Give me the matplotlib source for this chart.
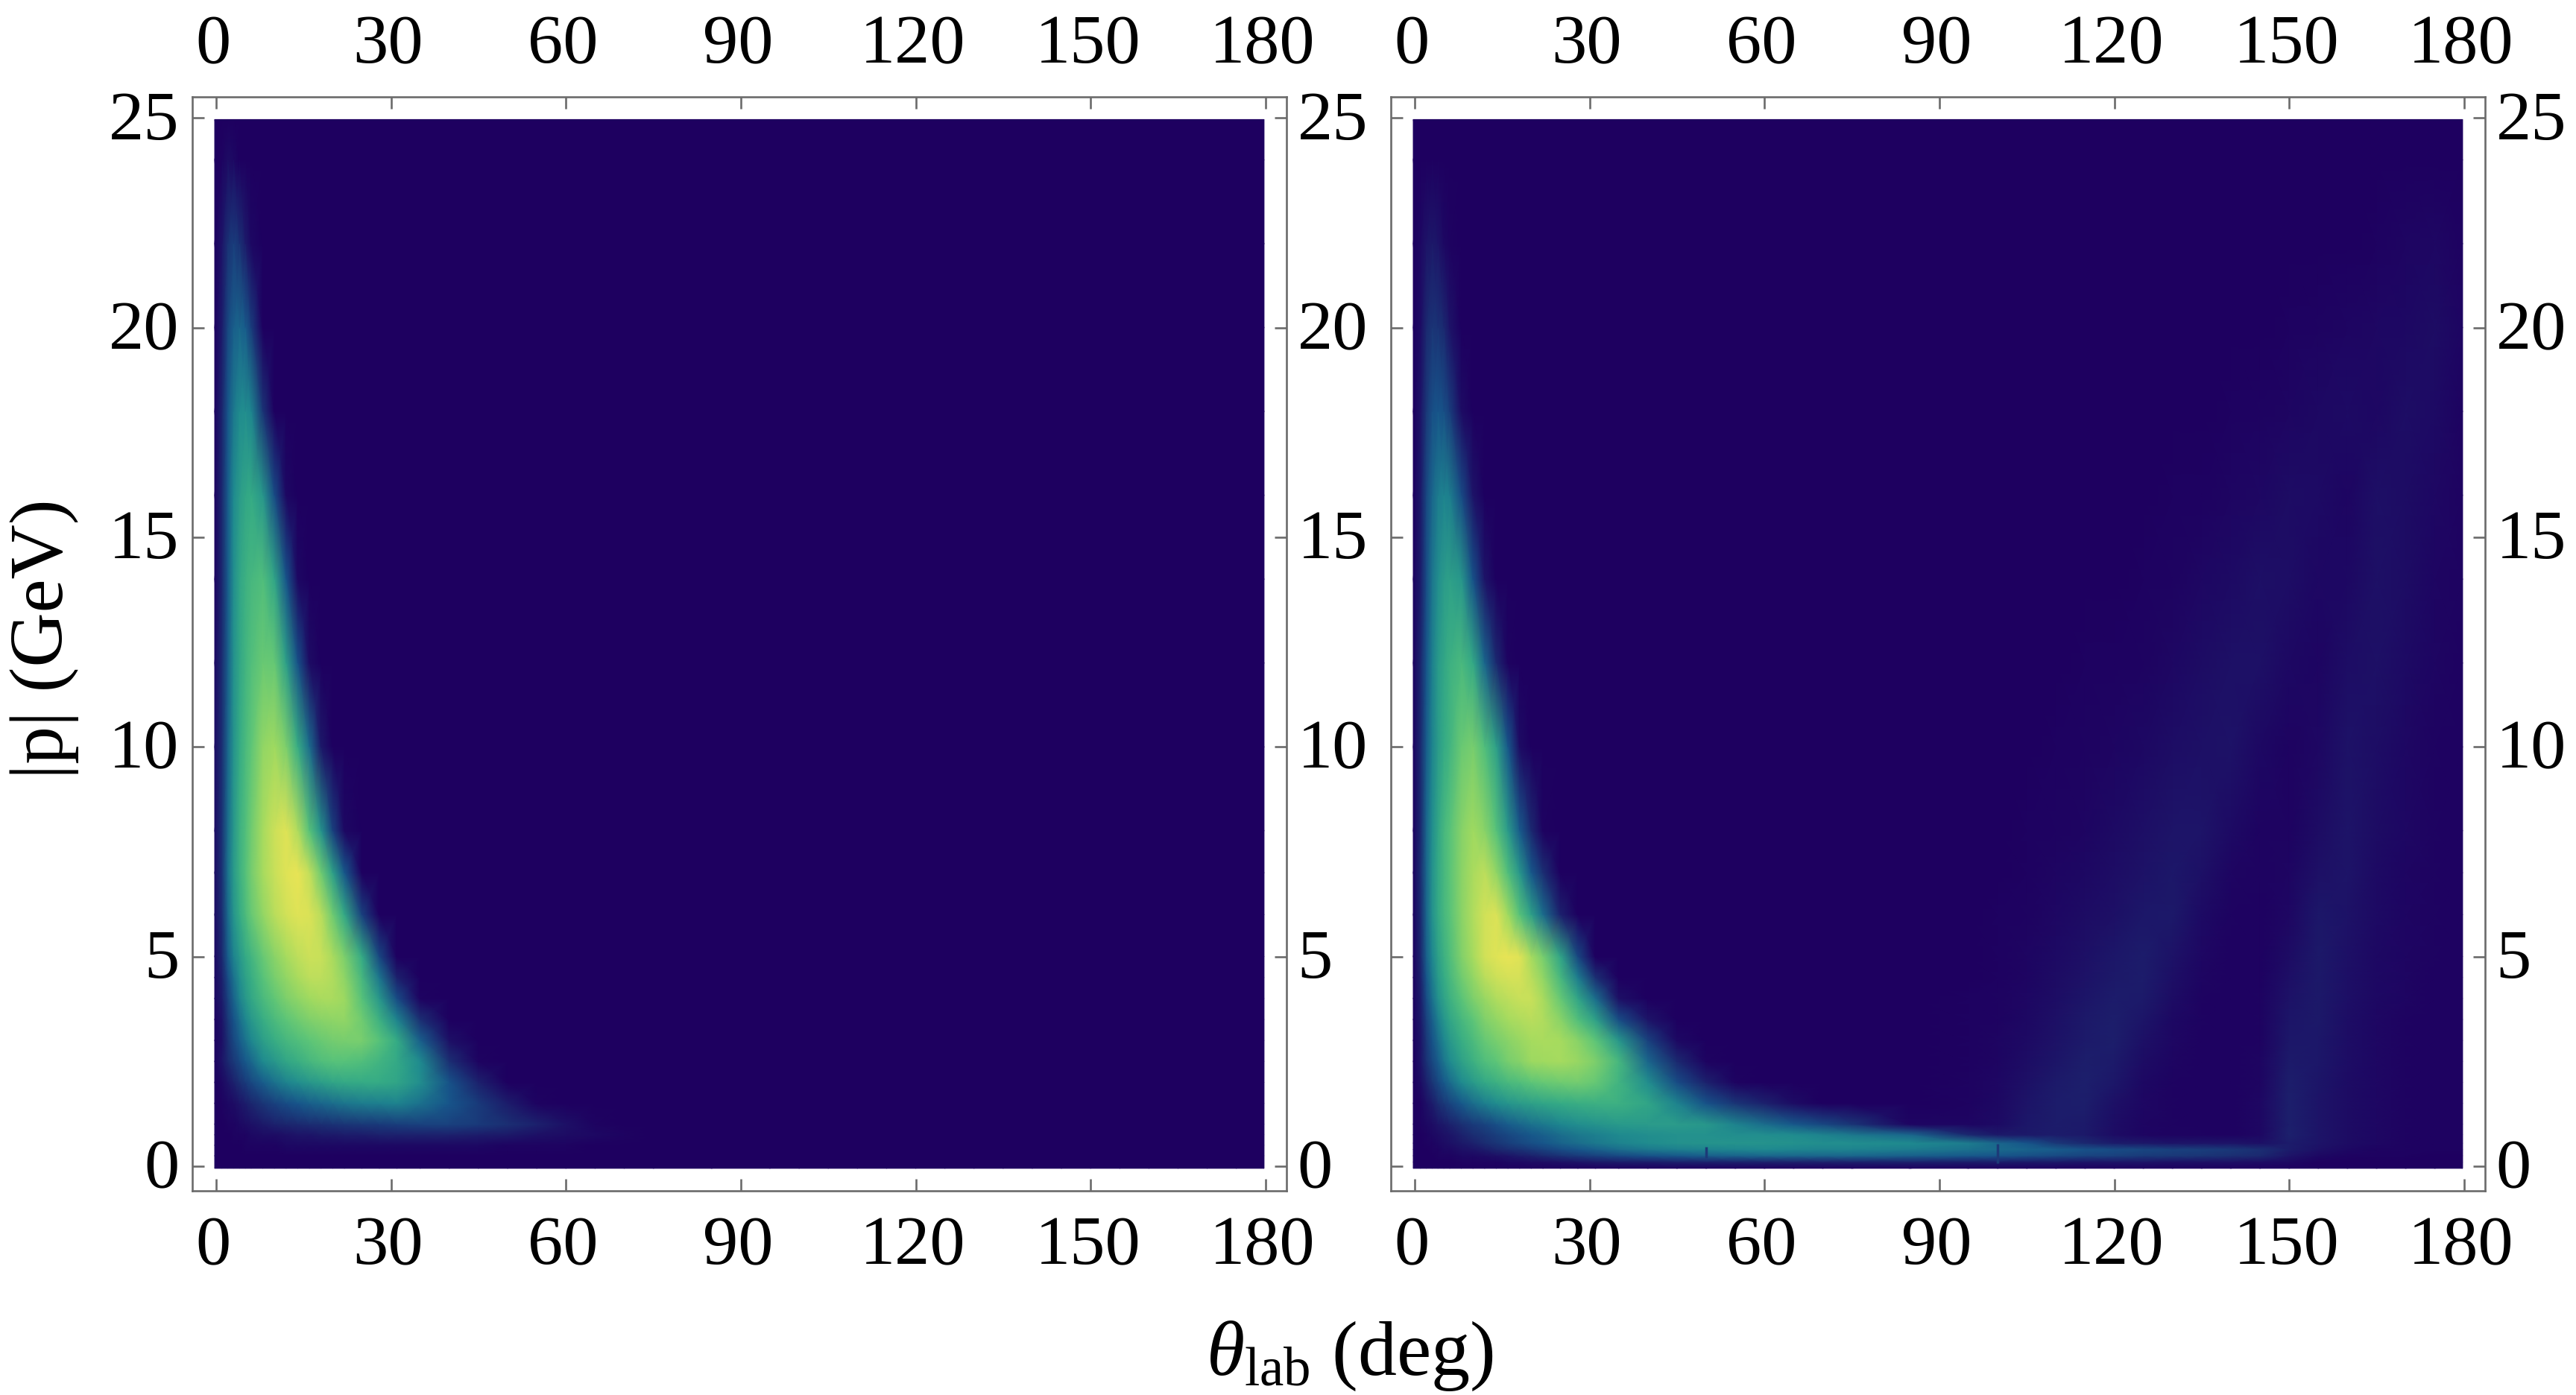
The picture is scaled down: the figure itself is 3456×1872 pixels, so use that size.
import numpy as np
import matplotlib
matplotlib.use("Agg")
import matplotlib.pyplot as plt
from matplotlib.colors import LinearSegmentedColormap
from matplotlib.transforms import ScaledTranslation

plt.rcParams["font.family"] = ["Liberation Serif", "DejaVu Serif"]
plt.rcParams["mathtext.fontset"] = "custom"
plt.rcParams["mathtext.rm"] = "Liberation Serif"
plt.rcParams["mathtext.it"] = "Liberation Serif:italic"

# tick labels
x_ticks = [0, 30, 60, 90, 120, 150, 180]
y_ticks = [0, 5, 10, 15, 20, 25]

# columns of the tables (deg), first and last one are the image edge
theta_near = [-0.25, 1, 2, 3, 4, 5, 6, 8, 10, 12, 14, 16, 18, 20, 22, 25, 28, 31, 35, 40, 45, 50, 55, 60, 65, 70]
theta_far = [75, 85, 95, 100, 105, 110, 115, 120, 125, 130, 135, 140, 145, 150, 155, 160, 165, 170, 175, 179.75]

# left panel, rows are cut where the rest is zero
left_p = [-0.05, 0.25, 0.5, 0.75, 1, 1.5, 2, 2.5, 3, 3.5, 4, 4.5, 5, 6, 7, 8, 10, 12, 14, 16, 18, 20, 22, 24, 24.96]
left_rows = [
    [0],
    [0],
    [0, 0, 0, 0, 0, .01, .01, .01, .01, .02, .02, .02, .02, .02, .02, .02, .02, .02, .02, .02, .02, .01, .01, .01, 0],
    [0, 0, 0, .01, .01, .01, .02, .03, .03, .04, .05, .05, .06, .06, .07, .07, .08, .08, .08, .08, .07, .06, .04, .03, .02, .01],
    [0, 0, .01, .01, .02, .03, .04, .06, .08, .09, .1, .11, .12, .13, .14, .15, .16, .17, .18, .18, .16, .12, .08, .04, .01, 0],
    [0, .01, .02, .03, .05, .07, .09, .14, .18, .22, .25, .28, .3, .32, .34, .36, .37, .38, .33, .25, .16, .07, .01, 0],
    [0, .02, .05, .08, .12, .16, .2, .27, .33, .38, .42, .46, .49, .52, .54, .55, .55, .52, .42, .24, .08, 0],
    [.01, .05, .1, .15, .2, .26, .3, .4, .46, .53, .57, .62, .66, .68, .68, .66, .6, .54, .4, .12, .01, 0],
    [.01, .04, .12, .2, .27, .33, .39, .49, .56, .62, .66, .7, .73, .75, .76, .76, .68, .55, .28, .04, 0],
    [.01, .05, .15, .24, .32, .39, .46, .56, .64, .7, .74, .78, .8, .81, .82, .74, .58, .38, .12, 0],
    [.02, .07, .18, .29, .38, .46, .53, .63, .71, .77, .81, .85, .87, .87, .84, .68, .46, .22, .01, 0],
    [.02, .08, .22, .33, .42, .5, .56, .68, .76, .82, .87, .91, .91, .88, .81, .62, .34, .08, 0],
    [.02, .1, .27, .38, .46, .54, .6, .72, .8, .86, .91, .94, .93, .87, .77, .55, .2, 0],
    [.03, .12, .31, .45, .55, .64, .72, .82, .9, .95, .98, .97, .9, .74, .54, .18, 0],
    [.03, .13, .33, .47, .58, .67, .75, .86, .93, .98, 1, .92, .74, .5, .26, 0],
    [.03, .13, .32, .46, .58, .66, .74, .86, .94, .98, .88, .68, .44, .18, .02, 0],
    [.03, .12, .3, .44, .55, .63, .7, .82, .85, .77, .56, .32, .06, 0],
    [.02, .11, .28, .43, .53, .6, .66, .73, .72, .5, .24, .03, 0],
    [.01, .1, .27, .42, .52, .58, .62, .66, .52, .25, .02, 0],
    [.01, .1, .27, .4, .48, .53, .55, .46, .22, .02, 0],
    [.01, .09, .25, .35, .41, .42, .39, .14, 0],
    [0, .07, .2, .28, .3, .27, .17, 0],
    [0, .05, .13, .17, .13, .07, .02, 0],
    [0, .01, .03, .02, 0],
    [0],
]

# right panel, forward part
right_p = [-0.05, 0.1, 0.25, 0.4, 0.55, 0.75, 1, 1.5, 2, 2.5, 3, 3.5, 4, 4.5, 5, 6, 7, 8, 10, 12, 14, 16, 18, 20, 22, 24, 24.96]
right_near = [
    [0],
    [0, 0, 0, 0, 0, 0, 0, .01, .01, .01, .01, .02, .02, .03, .03, .04, .05, .06, .07, .07, .08, .08, .08, .08, .08, .08],
    [0, 0, 0, 0, .01, .01, .01, .02, .02, .03, .04, .05, .07, .08, .1, .13, .16, .18, .21, .24, .26, .28, .29, .3, .3, .3],
    [0, 0, 0, .01, .01, .02, .02, .04, .05, .07, .09, .11, .13, .16, .18, .22, .25, .28, .32, .35, .37, .38, .39, .4, .39, .38],
    [0, 0, .01, .01, .02, .03, .04, .06, .08, .11, .14, .17, .2, .23, .25, .29, .32, .35, .38, .41, .43, .44, .44, .44, .43, .42],
    [0, 0, .01, .02, .03, .04, .05, .08, .11, .14, .17, .2, .23, .26, .28, .32, .35, .37, .4, .42, .43, .43, .42, .42, .41, .38],
    [0, .01, .02, .03, .05, .06, .08, .12, .16, .19, .23, .27, .3, .33, .35, .39, .42, .44, .47, .48, .48, .46, .38, .32, .26, .2],
    [0, .01, .04, .07, .11, .15, .19, .26, .32, .37, .41, .45, .48, .5, .52, .55, .57, .58, .58, .52, .38, .24, .14, .08, .03, 0],
    [0, .03, .08, .14, .2, .26, .31, .4, .47, .54, .58, .63, .66, .7, .72, .74, .75, .72, .6, .42, .22, .08, .01, 0],
    [0, .05, .13, .2, .27, .34, .4, .5, .58, .66, .7, .76, .79, .84, .85, .86, .83, .77, .62, .3, .1, .01, 0],
    [.01, .05, .15, .24, .32, .39, .46, .56, .64, .72, .76, .8, .83, .86, .87, .86, .8, .7, .46, .18, .02, 0],
    [.01, .06, .18, .28, .37, .45, .52, .62, .7, .78, .82, .86, .88, .9, .88, .8, .66, .5, .22, .05, 0],
    [.01, .07, .22, .33, .43, .51, .58, .69, .77, .83, .88, .91, .93, .93, .87, .72, .52, .32, .04, 0],
    [.01, .08, .25, .36, .47, .55, .62, .74, .82, .9, .94, .96, .96, .9, .82, .62, .36, .12, 0],
    [.01, .09, .28, .39, .5, .58, .65, .78, .86, .95, .98, 1, .98, .86, .76, .52, .2, 0],
    [.01, .1, .3, .43, .54, .62, .68, .8, .88, .95, .97, .85, .68, .5, .32, .08, 0],
    [.01, .11, .3, .43, .54, .62, .69, .8, .87, .91, .82, .66, .46, .26, .12, 0],
    [.01, .1, .3, .42, .53, .62, .68, .79, .85, .8, .68, .48, .27, .1, .01, 0],
    [.01, .1, .27, .38, .48, .55, .6, .73, .76, .66, .5, .26, .03, 0],
    [.01, .09, .25, .37, .47, .53, .58, .63, .54, .3, .1, .01, 0],
    [.01, .07, .22, .34, .42, .48, .5, .46, .24, .05, 0],
    [0, .06, .2, .3, .36, .38, .37, .22, .05, 0],
    [0, .05, .15, .23, .25, .23, .17, .03, 0],
    [0, .03, .1, .14, .13, .1, .05, 0],
    [0, .02, .05, .06, .05, .02, .01, 0],
    [0],
    [0],
]

# right panel, backward part with the low band and the two faint streaks
right_far = [
    [0] * 20,
    [.08, .08, .07, .07, .06, .06, .05, .05, .05, .04, .04, .04, .03, .02, 0, 0, 0, 0, 0, 0],
    [.3, .28, .26, .25, .23, .21, .19, .18, .16, .15, .14, .12, .1, .05, .02, .01, .005, .004, .003, .002],
    [.38, .36, .33, .31, .29, .27, .24, .22, .2, .18, .17, .15, .12, .07, .04, .02, .01, .008, .005, .004],
    [.42, .4, .36, .3, .25, .15, .1, .07, .06, .05, .05, .05, .04, .07, .05, .03, .016, .01, .006, .005],
    [.35, .3, .1, .06, .06, .07, .06, .03, .015, .01, .008, .006, .018, .08, .05, .028, .016, .01, .006, .005],
    [.14, .015, .012, .026, .055, .07, .065, .035, .015, .008, .006, .006, .018, .078, .05, .028, .016, .01, .006, .005],
    [0, .003, .01, .022, .048, .07, .072, .042, .018, .009, .006, .005, .016, .075, .05, .028, .016, .01, .006, .005],
    [0, .003, .008, .018, .04, .064, .076, .055, .022, .01, .006, .005, .014, .072, .052, .03, .017, .01, .006, .005],
    [0, .002, .007, .015, .032, .054, .072, .066, .03, .012, .006, .005, .012, .065, .056, .032, .018, .011, .007, .005],
    [0, .002, .006, .012, .026, .046, .066, .074, .04, .016, .007, .005, .01, .058, .058, .034, .018, .011, .007, .005],
    [0, .001, .005, .01, .022, .04, .059, .071, .052, .022, .008, .005, .009, .052, .059, .035, .019, .011, .007, .005],
    [0, 0, .004, .009, .018, .034, .052, .068, .065, .028, .01, .006, .008, .045, .06, .036, .02, .012, .007, .005],
    [0, 0, .003, .007, .015, .029, .046, .062, .067, .036, .013, .006, .007, .038, .06, .038, .021, .012, .007, .005],
    [0, 0, .003, .006, .012, .024, .04, .056, .068, .045, .016, .007, .006, .03, .06, .04, .022, .012, .008, .005],
    [0, 0, .002, .004, .008, .016, .028, .042, .056, .062, .026, .01, .006, .018, .055, .044, .024, .013, .008, .005],
    [0, 0, 0, .003, .006, .012, .02, .032, .046, .058, .04, .014, .008, .012, .042, .048, .026, .014, .008, .005],
    [0, 0, 0, .002, .004, .008, .014, .024, .036, .048, .05, .024, .01, .008, .03, .05, .028, .016, .01, .006],
    [0, 0, 0, 0, .002, .004, .008, .014, .022, .032, .042, .045, .022, .01, .016, .045, .032, .018, .01, .006],
    [0, 0, 0, 0, 0, .002, .004, .006, .01, .018, .03, .04, .04, .02, .012, .032, .042, .024, .012, .006],
    [0, 0, 0, 0, 0, 0, .002, .003, .005, .01, .016, .026, .038, .032, .016, .02, .042, .028, .014, .008],
    [0, 0, 0, 0, 0, 0, 0, .002, .002, .004, .007, .012, .018, .03, .026, .014, .036, .03, .016, .008],
    [0, 0, 0, 0, 0, 0, 0, 0, 0, 0, .002, .004, .008, .012, .02, .024, .018, .034, .024, .01],
    [0, 0, 0, 0, 0, 0, 0, 0, 0, 0, 0, 0, .003, .005, .008, .012, .018, .02, .028, .012],
    [0, 0, 0, 0, 0, 0, 0, 0, 0, 0, 0, 0, 0, 0, 0, 0, .006, .012, .016, .005],
    [0] * 20,
    [0] * 20,
]

# small dark glitches in the low band of the right panel
notch_theta = [50, 100]
notch_low = [0.2, 0.07]
notch_high = [0.47, 0.53]


def fill_rows(rows, n):
    return [list(r) + [0] * (n - len(r)) for r in rows]


theta_all = theta_near + theta_far
left_z = np.array(fill_rows(left_rows, len(theta_all)))
right_z = np.hstack([np.array(fill_rows(right_near, len(theta_near))), np.array(right_far)])

cmap = LinearSegmentedColormap.from_list("dens", [
    (0.0, "#1e0060"), (0.1, "#1b2a70"), (0.25, "#17558a"), (0.4, "#1f8a8f"),
    (0.55, "#35ab85"), (0.7, "#5cc578"), (0.85, "#a0da60"), (1.0, "#e8e455"),
])

W, H = 3456, 1872
fig = plt.figure(figsize=(W / 100, H / 100), dpi=100)
frame_color = "#6b6b6b"


def shift(label, dx, dy):
    # dx, dy in pixels
    label.set_transform(label.get_transform() + ScaledTranslation(dx / 100, dy / 100, fig.dpi_scale_trans))


def panel(left, right, p_grid, z, label_left):
    ax = fig.add_axes([left / W, 1 - 1598 / H, (right - left) / W, (1598 - 130) / H])
    X, Y = np.meshgrid(theta_all, p_grid)
    ax.pcolormesh(X, Y, z, cmap=cmap, vmin=0, vmax=1, shading="gouraud")
    ax.set_xlim(-4.09, 183.6)
    ax.set_ylim(-0.586, 25.5)
    ax.set_xticks(x_ticks)
    ax.set_yticks(y_ticks)
    ax.tick_params(axis="x", which="both", direction="in", top=True, bottom=True, labeltop=True,
                   length=11.5, width=1.9, color=frame_color, labelsize=68, pad=24)
    ax.tick_params(axis="y", which="both", direction="in", left=True, right=True, labelright=True,
                   labelleft=label_left, length=11.5, width=1.9, color=frame_color, labelsize=68, pad=12)
    for t in ax.xaxis.get_major_ticks():
        shift(t.label1, -4, 0)
        shift(t.label2, -4, -8)
    for t in ax.yaxis.get_major_ticks():
        shift(t.label1, -1, 4)
        shift(t.label2, -2, 4)
    for s in ax.spines.values():
        s.set_color(frame_color)
        s.set_linewidth(1.9)
    return ax


ax1 = panel(258, 1726, left_p, left_z, True)
ax2 = panel(1866, 3334, right_p, right_z, False)
ax2.vlines(notch_theta, notch_low, notch_high, color="#1c3a78", linewidth=2.5)

fig.text(1811 / W, 1 - 1820 / H, r"$\theta_{\mathrm{lab}}$ (deg)", fontsize=75, ha="center", va="center")
fig.text(60 / W, 1 - 857 / H, "|p| (GeV)", fontsize=73, rotation=90, ha="center", va="center")

fig.savefig("out.png", dpi=100)
